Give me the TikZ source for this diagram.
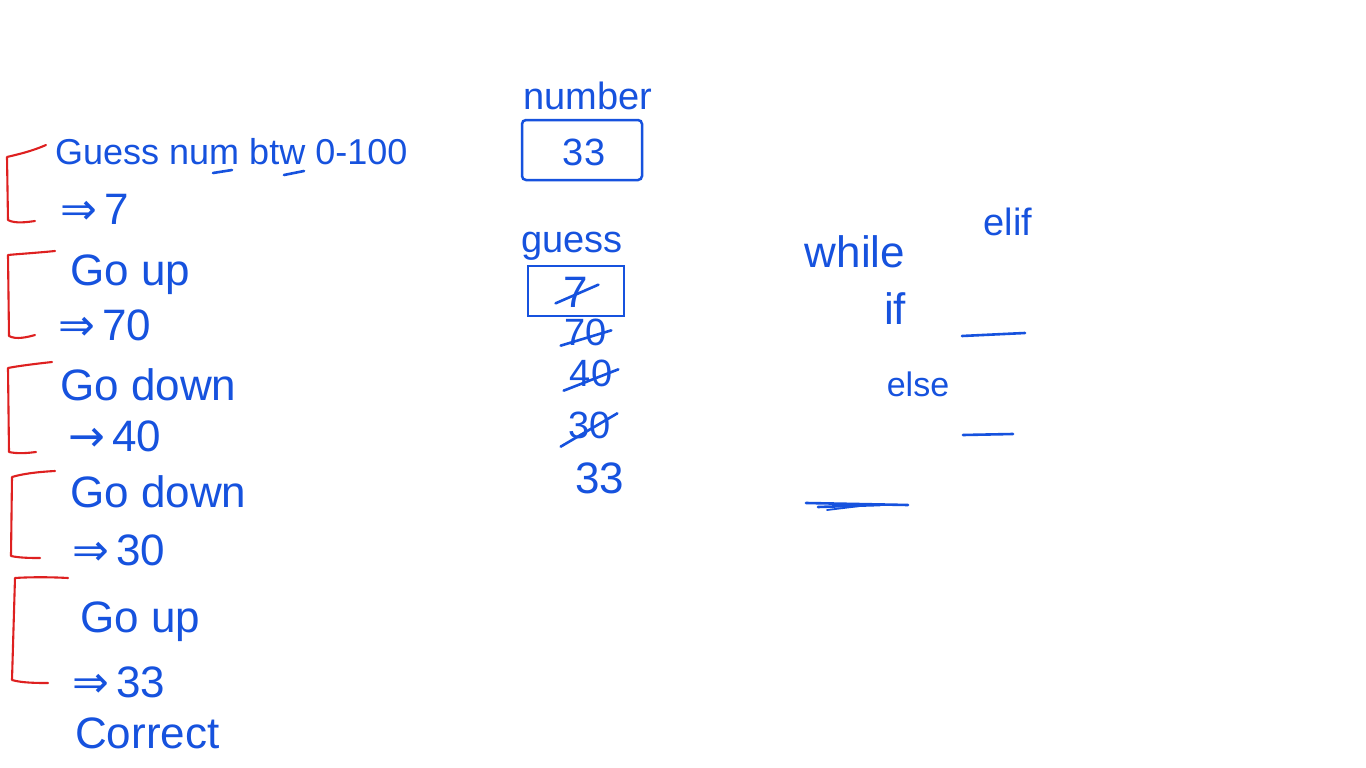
\documentclass[tikz,border=0pt]{standalone}
\usepackage{fontspec}
\setmainfont{Liberation Sans}
\newfontfamily\symfont{DejaVu Sans}
\definecolor{ink}{RGB}{22,82,222}
\definecolor{redink}{RGB}{222,32,32}
\begin{document}
\begin{tikzpicture}[x=1pt,y=-1pt,
  hw/.style={text=ink, inner sep=0pt, font=\fontsize{44}{48}\selectfont},
  hwm/.style={text=ink, inner sep=0pt, font=\fontsize{38}{42}\selectfont},
  hwt/.style={text=ink, inner sep=0pt, font=\fontsize{36}{40}\selectfont},
  hws/.style={text=ink, inner sep=0pt, font=\fontsize{34}{38}\selectfont},
  bracketline/.style={draw=redink, line width=2.1pt, line cap=round, line join=round},
  pen/.style={draw=ink, line width=2.6pt, line cap=round, line join=round},
  boxed/.style={draw=ink, line width=2.5pt, rounded corners=4pt}]
\useasboundingbox (0,0) rectangle (1366,768);
\fill[white] (0,0) rectangle (1366,768);

% red brackets
\draw[bracketline] (46,145) .. controls (30,152) and (15,155) .. (7,157) -- (8,220) .. controls (15,224) and (28,222) .. (35,221);
\draw[bracketline] (55,251) .. controls (35,253) and (18,254) .. (8,255) -- (9,336) .. controls (16,340) and (28,337) .. (35,335);
\draw[bracketline] (52,362) .. controls (34,364) and (18,366) .. (8,368) -- (9,452) .. controls (18,454) and (28,453) .. (36,452);
\draw[bracketline] (55,471) .. controls (36,472) and (22,474) .. (12,477) -- (11,556) .. controls (20,558) and (32,558) .. (40,558);
\draw[bracketline] (68,578) .. controls (50,577) and (30,577) .. (15,578) -- (12,680) .. controls (22,683) and (38,683) .. (48,683);

% left column text
\node[hwt, anchor=base west] (t1) at (55,164) {Guess num btw 0-100};
\draw[pen] (213,173) -- (232,170);
\draw[pen] (284,175) -- (304,171);
\node[hw, anchor=base west] (a1) at (60,224) {{\symfont ⇒}\,7};
\node[hw, anchor=base west] (t2) at (70,285) {Go up};
\node[hw, anchor=base west] (a2) at (58,340) {{\symfont ⇒}\,70};
\node[hw, anchor=base west] (t3) at (60,400) {Go down};
\node[hw, anchor=base west] (a3) at (68,451) {{\symfont →}\,40};
\node[hw, anchor=base west] (t4) at (70,507) {Go down};
\node[hw, anchor=base west] (a4) at (72,565) {{\symfont ⇒}\,30};
\node[hw, anchor=base west] (t5) at (80,632) {Go up};
\node[hw, anchor=base west] (a5) at (72,697) {{\symfont ⇒}\,33};
\node[hw, anchor=base west] (t6) at (75,748) {Correct};

% middle column
\node[hwm] (numlbl) at (588,96) {number};
\node[boxed, minimum width=120pt, minimum height=60pt] (numbox) at (582,150) {};
\node[hwm] (numval) at (584,152) {33};
\node[hwm] (guesslbl) at (572,246) {guess};
\node[draw=ink, line width=2.5pt, minimum width=96pt, minimum height=50pt] (guessbox) at (576,291) {};
\node[hw] (g1) at (576,292) {7};
\draw[pen] ([shift={(-8,-4)}]g1.south west) -- ([shift={(10,8)}]g1.north east);
\node[hwm] (g2) at (586,332) {70};
\draw[pen] ([shift={(-4,0)}]g2.south west) -- ([shift={(4,12)}]g2.north east);
\node[hwm] (g3) at (591,373) {40};
\draw[pen] ([shift={(-6,4)}]g3.south west) -- ([shift={(6,10)}]g3.north east);
\node[hwm] (g4) at (590,425) {30};
\draw[pen] ([shift={(-8,8)}]g4.south west) -- ([shift={(6,2)}]g4.north east);
\node[hw] (g5) at (600,478) {33};

% right area
\node[hw] (kwwhile) at (855,252) {while};
\node[hwm] (kwelif) at (1008,222) {elif};
\node[hw] (kwif) at (895,309) {if};
\node[hws] (kwelse) at (918,384) {else};
\coordinate (l1a) at (962,336); \coordinate (l1b) at (1025,333);
\draw[pen] (l1a) -- (l1b);
\coordinate (l2a) at (963,435); \coordinate (l2b) at (1013,434);
\draw[pen] (l2a) -- (l2b);
\coordinate (l3a) at (806,503); \coordinate (l3b) at (908,505);
\draw[pen] (l3a) -- (l3b);
\draw[pen] (818,507) -- (880,505);
\draw[pen, line width=1.8pt] (827,510) -- (860,506);
\end{tikzpicture}
\end{document}
